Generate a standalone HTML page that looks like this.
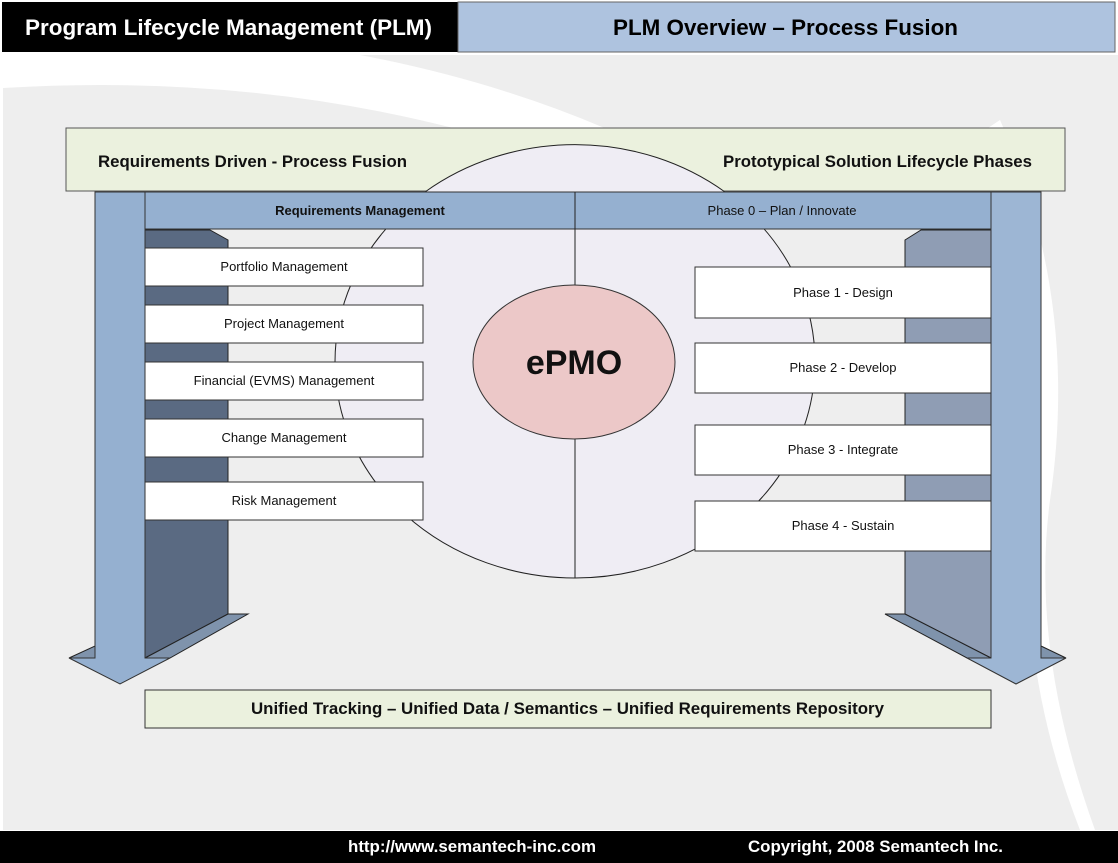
<!DOCTYPE html>
<html><head><meta charset="utf-8"><style>
body{margin:0;width:1118px;height:863px;overflow:hidden;background:#fff;font-family:"Liberation Sans",Arial,sans-serif}
svg{display:block}
</style></head><body>
<svg width="1118" height="863" viewBox="0 0 1118 863" font-family="Liberation Sans, Arial, sans-serif">
<rect width="1118" height="863" fill="#fff"/>
<path d="M3 88 Q300 70 560 160 Q800 250 1000 70 L1118 60 L1118 830 L3 830 Z" fill="#eeeeee"/>
<path d="M360 55 Q700 120 900 330 Q1000 450 1080 830 L1118 830 L1118 55 Z" fill="#eeeeee"/>
<path d="M1000 120 Q1080 300 1050 500 Q1030 650 1095 830 L1080 830 Q1010 650 1035 480 Q1060 300 985 130 Z" fill="#ffffff"/>
<rect x="2" y="2" width="456" height="50" fill="#000"/>
<rect x="458" y="2" width="657" height="50" fill="#aec3df" stroke="#666" stroke-width="1"/>
<text x="25" y="35" fill="#fff" font-size="22.6" font-weight="bold" textLength="407" lengthAdjust="spacingAndGlyphs">Program Lifecycle Management (PLM)</text>
<text x="613" y="35" fill="#000" font-size="22.6" font-weight="bold" textLength="345" lengthAdjust="spacingAndGlyphs">PLM Overview – Process Fusion</text>
<rect x="0" y="831" width="1118" height="32" fill="#000"/>
<text x="348" y="852" fill="#fff" font-size="16.8" font-weight="bold" textLength="248" lengthAdjust="spacingAndGlyphs">http://www.semantech-inc.com</text>
<text x="748" y="852" fill="#fff" font-size="16.8" font-weight="bold" textLength="255" lengthAdjust="spacingAndGlyphs">Copyright, 2008 Semantech Inc.</text>

<ellipse cx="575" cy="362" rx="240" ry="216" fill="#efedf4" stroke="#222" stroke-width="1"/>
<path d="M66 128 H1065 V191 H66 Z" fill="#ebf1de" stroke="#555" stroke-width="1"/>
<path d="M425 192 A240 216 0 0 1 725 192 Z" fill="#efedf4"/>
<path d="M425 192 A240 216 0 0 1 725 192" fill="none" stroke="#222"/>
<text x="98" y="167" font-size="16.8" font-weight="bold" fill="#111" textLength="309" lengthAdjust="spacingAndGlyphs">Requirements Driven - Process Fusion</text>
<text x="723" y="167" font-size="16.8" font-weight="bold" fill="#111" textLength="309" lengthAdjust="spacingAndGlyphs">Prototypical Solution Lifecycle Phases</text>

<path d="M145 230 H210 L228 240 V614 L145 658 Z" fill="#5a6a82" stroke="#222"/>
<path d="M145 658 L228 614 L248 614 L170 658 Z" fill="#7f93ac" stroke="#222"/>
<path d="M69 658 L95 646 V658 Z" fill="#7f93ac" stroke="#222"/>
<path d="M95 192 H145 V658 H170 L120 684 L69 658 H95 Z" fill="#95b0d0" stroke="#333"/>

<path d="M905 240 L921 230 H991 V658 L905 614 Z" fill="#8f9db4" stroke="#222"/>
<path d="M885 614 L905 614 L991 658 L967 658 Z" fill="#7f93ac" stroke="#222"/>
<path d="M1041 646 L1066 658 H1041 Z" fill="#7f93ac" stroke="#222"/>
<path d="M991 192 H1041 V658 H1066 L1016 684 L967 658 H991 Z" fill="#9db6d4" stroke="#333"/>

<rect x="145" y="192" width="846" height="37" fill="#95b0d0" stroke="#333"/>
<line x1="575" y1="192" x2="575" y2="578" stroke="#222"/>
<text x="360" y="215" font-size="13" font-weight="bold" text-anchor="middle" fill="#111">Requirements Management</text>
<text x="782" y="215" font-size="13" text-anchor="middle" fill="#111">Phase 0 – Plan / Innovate</text>

<ellipse cx="574" cy="362" rx="101" ry="77" fill="#ecc8c8" stroke="#333"/>
<text x="574" y="374" font-size="34" font-weight="bold" text-anchor="middle" fill="#111">ePMO</text>

<g fill="#fff" stroke="#333">
<rect x="145" y="248" width="278" height="38"/>
<rect x="145" y="305" width="278" height="38"/>
<rect x="145" y="362" width="278" height="38"/>
<rect x="145" y="419" width="278" height="38"/>
<rect x="145" y="482" width="278" height="38"/>
<rect x="695" y="267" width="296" height="51"/>
<rect x="695" y="343" width="296" height="50"/>
<rect x="695" y="425" width="296" height="50"/>
<rect x="695" y="501" width="296" height="50"/>
</g>
<g font-size="13" text-anchor="middle" fill="#111">
<text x="284" y="271">Portfolio Management</text>
<text x="284" y="328">Project Management</text>
<text x="284" y="385">Financial (EVMS) Management</text>
<text x="284" y="442">Change Management</text>
<text x="284" y="505">Risk Management</text>
<text x="843" y="297">Phase 1 - Design</text>
<text x="843" y="372">Phase 2 - Develop</text>
<text x="843" y="454">Phase 3 - Integrate</text>
<text x="843" y="530">Phase 4 - Sustain</text>
</g>

<rect x="145" y="690" width="846" height="38" fill="#ebf1de" stroke="#333"/>
<text x="251" y="714" font-size="16.8" font-weight="bold" fill="#111" textLength="633" lengthAdjust="spacingAndGlyphs">Unified Tracking – Unified Data / Semantics – Unified Requirements Repository</text>
</svg>
</body></html>
